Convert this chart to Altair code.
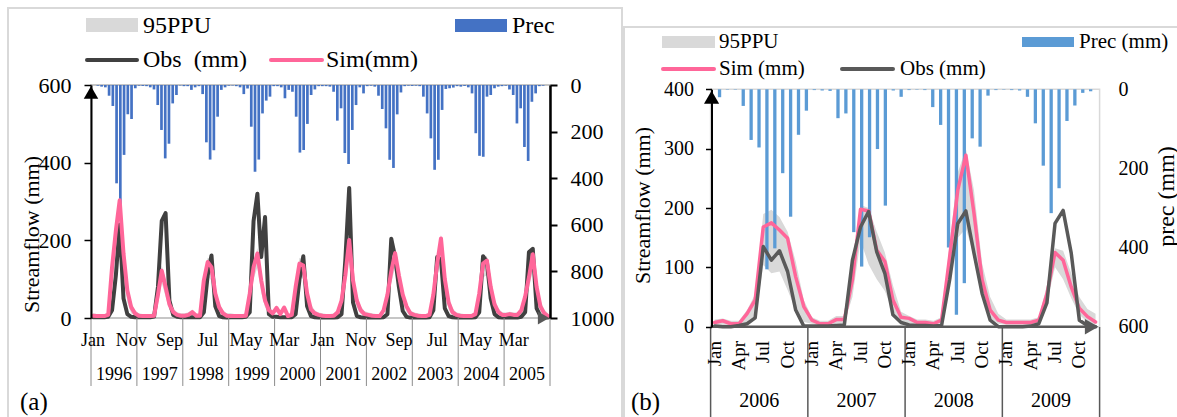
import altair as alt
import pandas as pd
import numpy as np

FONT = "Liberation Serif"

# ---------------- Panel (a): 1996-2005, monthly ----------------
years_a = ["1996", "1997", "1998", "1999", "2000", "2001", "2002", "2003", "2004", "2005"]
month_labels_a = ["Jan", "Nov", "Sep", "Jul", "May", "Mar", "Jan", "Nov", "Sep", "Jul", "May", "Mar"]

prec_a = [
    3, 7, 10, 46, 90, 422, 540, 300, 126, 146, 14, 3,
    4, 5, 10, 19, 86, 193, 315, 252, 79, 43, 2, 5,
    5, 21, 10, 5, 39, 246, 320, 280, 136, 21, 10, 3,
    2, 5, 10, 39, 15, 179, 372, 320, 122, 67, 50, 5,
    5, 10, 57, 21, 29, 136, 290, 279, 167, 43, 19, 5,
    5, 5, 7, 29, 153, 100, 292, 339, 193, 86, 10, 36,
    5, 3, 7, 46, 103, 186, 321, 356, 126, 32, 5, 3,
    4, 3, 5, 50, 122, 229, 364, 321, 107, 17, 14, 11,
    5, 7, 4, 10, 36, 207, 304, 308, 50, 43, 14, 7,
    5, 3, 19, 43, 165, 100, 266, 326, 72, 36, 5, 3,
]
obs_a = [
    2, 2, 2, 2, 3, 20, 110, 240, 50, 10, 3, 2,
    2, 2, 2, 2, 4, 80, 250, 270, 45, 8, 3, 2,
    2, 2, 2, 2, 2, 15, 110, 161, 30, 5, 2, 1,
    2, 2, 2, 2, 3, 15, 250, 320, 157, 260, 10, 3,
    3, 2, 2, 2, 2, 10, 100, 159, 30, 5, 2, 1,
    1, 1, 1, 1, 2, 10, 150, 335, 40, 5, 2, 1,
    1, 1, 1, 1, 2, 10, 204, 157, 80, 18, 3, 1,
    1, 1, 1, 1, 2, 20, 157, 150, 25, 5, 2, 1,
    1, 1, 1, 1, 2, 15, 159, 145, 50, 10, 2, 1,
    1, 1, 1, 1, 3, 15, 170, 178, 25, 5, 2, 1,
]
sim_a = [
    6, 5, 5, 5, 8, 130, 225, 303, 166, 71, 28, 12,
    6, 5, 5, 5, 6, 60, 122, 80, 35, 15, 8, 6,
    6, 8, 15, 6, 6, 97, 144, 131, 63, 28, 12, 6,
    5, 5, 5, 5, 6, 63, 131, 166, 97, 45, 20, 12,
    26, 10, 27, 5, 8, 80, 140, 135, 63, 22, 12, 8,
    6, 5, 5, 6, 15, 45, 110, 201, 97, 45, 20, 10,
    8, 6, 5, 5, 20, 60, 120, 167, 110, 60, 30, 12,
    8, 6, 5, 5, 8, 60, 140, 205, 100, 40, 15, 8,
    6, 5, 5, 5, 10, 63, 140, 148, 80, 35, 15, 8,
    8, 10, 8, 8, 20, 55, 105, 164, 80, 30, 12, 5,
]
ppu_hi_a = [
    12, 10, 10, 10, 15, 150, 240, 310, 185, 90, 40, 20,
    12, 10, 10, 10, 12, 75, 135, 100, 50, 25, 15, 12,
    12, 15, 22, 12, 12, 110, 155, 150, 80, 40, 20, 12,
    12, 10, 10, 10, 12, 80, 145, 180, 115, 60, 30, 20,
    32, 16, 32, 10, 14, 95, 155, 150, 80, 35, 20, 14,
    12, 10, 10, 12, 22, 60, 125, 210, 115, 60, 30, 18,
    14, 12, 10, 10, 28, 75, 135, 180, 130, 75, 40, 20,
    14, 12, 10, 10, 15, 75, 155, 215, 120, 55, 25, 15,
    12, 10, 10, 10, 16, 78, 150, 160, 100, 50, 25, 15,
    14, 16, 14, 14, 28, 70, 120, 178, 100, 45, 22, 12,
]
ppu_lo_a = [
    2, 2, 2, 2, 3, 80, 170, 250, 110, 40, 12, 5,
    2, 2, 2, 2, 2, 35, 90, 55, 20, 8, 3, 2,
    2, 3, 8, 2, 2, 60, 110, 95, 40, 15, 5, 2,
    2, 2, 2, 2, 2, 40, 100, 130, 65, 28, 10, 5,
    15, 5, 15, 2, 3, 50, 105, 100, 40, 12, 5, 3,
    2, 2, 2, 2, 8, 28, 80, 160, 65, 28, 10, 4,
    3, 2, 2, 2, 10, 40, 90, 130, 75, 38, 15, 5,
    3, 2, 2, 2, 3, 38, 105, 160, 65, 22, 6, 3,
    2, 2, 2, 2, 4, 40, 105, 110, 50, 20, 6, 3,
    3, 4, 3, 3, 10, 35, 75, 125, 50, 16, 5, 2,
]

# ---------------- Panel (b): 2006-2009, monthly ----------------
years_b = ["2006", "2007", "2008", "2009"]
month_labels_b = ["Jan", "Apr", "Jul", "Oct"]

prec_b = [
    20, 1, 1, 42, 128, 147, 455, 402, 212, 322, 115, 54,
    2, 3, 4, 73, 61, 361, 448, 374, 151, 294, 3, 19,
    2, 1, 2, 45, 90, 400, 570, 490, 124, 145, 16, 2,
    1, 2, 3, 19, 86, 193, 313, 250, 80, 41, 9, 5,
]
obs_b = [
    1, 0, 0, 2, 5, 15, 135, 112, 128, 93, 28, 1,
    1, 1, 1, 2, 3, 112, 168, 194, 126, 90, 20, 7,
    3, 2, 2, 1, 2, 79, 174, 195, 124, 56, 11, 0,
    0, 0, 0, 1, 5, 40, 174, 196, 124, 11, 2, 0,
]
sim_b = [
    7, 10, 5, 5, 22, 45, 168, 175, 163, 149, 84, 34,
    11, 5, 5, 12, 12, 79, 198, 195, 129, 110, 45, 16,
    14, 7, 7, 5, 11, 118, 230, 289, 191, 79, 28, 11,
    7, 7, 7, 7, 11, 55, 125, 112, 67, 31, 17, 8,
]
ppu_hi_b = [
    12, 14, 10, 10, 28, 55, 190, 197, 185, 160, 110, 45,
    16, 10, 10, 18, 18, 95, 205, 200, 160, 125, 70, 25,
    18, 12, 12, 10, 16, 140, 260, 300, 230, 107, 50, 22,
    12, 12, 12, 12, 16, 70, 132, 128, 90, 50, 30, 22,
]
ppu_lo_b = [
    2, 3, 1, 1, 5, 12, 104, 90, 93, 62, 28, 8,
    5, 2, 2, 5, 6, 50, 145, 105, 80, 60, 25, 8,
    5, 3, 3, 2, 5, 80, 150, 165, 120, 50, 15, 5,
    3, 3, 3, 3, 5, 40, 100, 80, 48, 20, 8, 3,
]

# ---------------- data frames ----------------
df_a = pd.DataFrame({"t": np.arange(120) + 0.5, "prec": prec_a, "obs": obs_a,
                     "sim": sim_a, "lo": ppu_lo_a, "hi": ppu_hi_a})
df_b = pd.DataFrame({"t": np.arange(48) + 0.5, "prec": prec_b, "obs": obs_b,
                     "sim": sim_b, "lo": ppu_lo_b, "hi": ppu_hi_b})
mon_a = pd.DataFrame({"t": [10 * k + 0.5 for k in range(len(month_labels_a))], "label": month_labels_a})
yr_a = pd.DataFrame({"t": [12 * k + 6 for k in range(len(years_a))], "label": years_a})
sep_a = pd.DataFrame({"t": [12 * k for k in range(len(years_a) + 1)]})
mon_b = pd.DataFrame({"t": [3 * (k % 4) + 12 * (k // 4) + 0.5 for k in range(16)],
                      "label": [month_labels_b[k % 4] for k in range(16)]})
yr_b = pd.DataFrame({"t": [12 * k + 6 for k in range(len(years_b))], "label": years_b})
sep_b = pd.DataFrame({"t": [12 * k for k in range(len(years_b) + 1)]})
one = pd.DataFrame({"k": [0]})

# ---------------- scales ----------------
def sx_a():
    return alt.Scale(domain=[0, 120], range=[91, 550], nice=False, zero=False)

def sq_a():
    return alt.Scale(domain=[0, 600], range=[318, 85], nice=False, zero=False)

def sp_a():
    return alt.Scale(domain=[0, 1000], range=[85, 318], nice=False, zero=False)

def sx_b():
    return alt.Scale(domain=[0, 48], range=[710.6, 1099.6], nice=False, zero=False)

def sq_b():
    return alt.Scale(domain=[0, 400], range=[326.7, 89.3], nice=False, zero=False)

def sp_b():
    return alt.Scale(domain=[0, 600], range=[89.3, 326.7], nice=False, zero=False)

layers = []

# frames
layers.append(alt.Chart(one).mark_rect(fill="white", stroke="#d9d9d9", strokeWidth=2).encode(
    x=alt.value(8), x2=alt.value(622), y=alt.value(8), y2=alt.value(440)))
layers.append(alt.Chart(one).mark_rect(fill="white", stroke="#d9d9d9", strokeWidth=2).encode(
    x=alt.value(624), x2=alt.value(1195), y=alt.value(27), y2=alt.value(440)))

# ----- panel (a) -----
layers.append(alt.Chart(one).mark_rect(fill=None, stroke="#b4b4b4", strokeWidth=1.5).encode(
    x=alt.X(datum=0, scale=sx_a(), axis=None), x2=alt.datum(120),
    y=alt.Y(datum=600, scale=sq_a(), axis=None), y2=alt.datum(0)))
layers.append(alt.Chart(df_a).mark_area(color="#d9d9d9").encode(
    x=alt.X("t:Q", scale=sx_a(), axis=None),
    y=alt.Y("hi:Q", scale=sq_a(), axis=None), y2="lo:Q"))
layers.append(alt.Chart(df_a).mark_bar(size=2.7, color="#4472C4").encode(
    x=alt.X("t:Q", scale=sx_a(), axis=None),
    y=alt.Y("prec:Q", scale=sp_a(), axis=alt.Axis(
        orient="right", offset=-627, values=[0, 200, 400, 600, 800, 1000], grid=False, zindex=2,
        format="d",
        domainColor="black", domainWidth=2.5, tickColor="black", tickWidth=2, tickSize=7,
        labelFont=FONT, labelFontSize=22, labelColor="black", labelPadding=13,
        labelOverlap=False, labelFlush=False, title=None)),
    y2=alt.datum(0)))
layers.append(alt.Chart(df_a).mark_line(color="#404040", strokeWidth=4, strokeJoin="round", strokeCap="round").encode(
    x=alt.X("t:Q", scale=sx_a(), axis=None),
    y=alt.Y("obs:Q", scale=sq_a(), axis=None)))
layers.append(alt.Chart(df_a).mark_line(color="#FF6699", strokeWidth=4, strokeJoin="round", strokeCap="round").encode(
    x=alt.X("t:Q", scale=sx_a(), axis=None),
    y=alt.Y("sim:Q", scale=sq_a(), axis=alt.Axis(
        orient="left", offset=-91, values=[0, 200, 400, 600], grid=False, zindex=2,
        format="d",
        domainColor="black", domainWidth=2, tickColor="black", tickWidth=1.5, tickSize=7,
        labelFont=FONT, labelFontSize=22, labelColor="black", labelPadding=13,
        labelOverlap=False, labelFlush=False,
        title="Streamflow (mm)", titleFont=FONT, titleFontSize=22, titleFontWeight="normal",
        titleColor="black", titleAngle=270, titleX=-59.5, titleY=234,
        titleAlign="center", titleBaseline="middle"))))
# axis arrows (a)
layers.append(alt.Chart(one).mark_point(shape="triangle-up", filled=True, size=210, color="black",
                                        opacity=1, yOffset=7.5).encode(
    x=alt.X(datum=0, scale=sx_a(), axis=None), y=alt.Y(datum=600, scale=sq_a(), axis=None)))
layers.append(alt.Chart(one).mark_point(shape="triangle-right", filled=True, size=170, color="#595959",
                                        opacity=1, xOffset=-6.5).encode(
    x=alt.X(datum=120, scale=sx_a(), axis=None), y=alt.Y(datum=0, scale=sq_a(), axis=None)))
# x labels (a)
layers.append(alt.Chart(sep_a).mark_rule(color="#8c8c8c", strokeWidth=1).encode(
    x=alt.X("t:Q", scale=sx_a(), axis=None), y=alt.value(318), y2=alt.value(386)))
layers.append(alt.Chart(mon_a).mark_text(font=FONT, fontSize=18, color="black", baseline="middle").encode(
    x=alt.X("t:Q", scale=sx_a(), axis=None), y=alt.value(341), text="label:N"))
layers.append(alt.Chart(yr_a).mark_text(font=FONT, fontSize=18, color="black", baseline="middle").encode(
    x=alt.X("t:Q", scale=sx_a(), axis=None), y=alt.value(375), text="label:N"))

# ----- panel (b) -----
layers.append(alt.Chart(one).mark_rect(fill=None, stroke="#d9d9d9", strokeWidth=1.5).encode(
    x=alt.X(datum=0, scale=sx_b(), axis=None), x2=alt.datum(48),
    y=alt.Y(datum=400, scale=sq_b(), axis=None), y2=alt.datum(0)))
layers.append(alt.Chart(df_b).mark_area(color="#d9d9d9").encode(
    x=alt.X("t:Q", scale=sx_b(), axis=None),
    y=alt.Y("hi:Q", scale=sq_b(), axis=None), y2="lo:Q"))
layers.append(alt.Chart(df_b).mark_bar(size=3.3, color="#5B9BD5").encode(
    x=alt.X("t:Q", scale=sx_b(), axis=None),
    y=alt.Y("prec:Q", scale=sp_b(), axis=alt.Axis(
        orient="right", offset=-77, values=[0, 200, 400, 600], grid=False, zindex=2,
        format="d", domain=False, ticks=False,
        labelFont=FONT, labelFontSize=20, labelColor="black", labelPadding=18,
        labelOverlap=False, labelFlush=False,
        title="prec (mm)", titleFont=FONT, titleFontSize=24, titleFontWeight="normal",
        titleColor="black", titleAngle=270, titleX=66, titleY=196,
        titleAlign="center", titleBaseline="middle")),
    y2=alt.datum(0)))
layers.append(alt.Chart(df_b).mark_line(color="#FF6699", strokeWidth=3.5, strokeJoin="round", strokeCap="round").encode(
    x=alt.X("t:Q", scale=sx_b(), axis=None),
    y=alt.Y("sim:Q", scale=sq_b(), axis=None)))
layers.append(alt.Chart(df_b).mark_line(color="#595959", strokeWidth=3.5, strokeJoin="round", strokeCap="round").encode(
    x=alt.X("t:Q", scale=sx_b(), axis=None),
    y=alt.Y("obs:Q", scale=sq_b(), axis=alt.Axis(
        orient="left", offset=-711.5, values=[0, 100, 200, 300, 400], grid=False, zindex=2,
        format="d",
        domainColor="black", domainWidth=2, tickColor="black", tickWidth=1.5, tickSize=6,
        labelFont=FONT, labelFontSize=20, labelColor="black", labelPadding=12,
        labelOverlap=False, labelFlush=False,
        title="Streamflow (mm)", titleFont=FONT, titleFontSize=22, titleFontWeight="normal",
        titleColor="black", titleAngle=270, titleX=-69, titleY=205,
        titleAlign="center", titleBaseline="middle"))))
layers.append(alt.Chart(one).mark_rule(color="#595959", strokeWidth=2.5).encode(
    x=alt.X(datum=0, scale=sx_b(), axis=None), x2=alt.datum(47),
    y=alt.Y(datum=0, scale=sq_b(), axis=None)))
layers.append(alt.Chart(one).mark_point(shape="triangle-up", filled=True, size=230, color="black",
                                        opacity=1, yOffset=8).encode(
    x=alt.X(datum=0.12, scale=sx_b(), axis=None), y=alt.Y(datum=400, scale=sq_b(), axis=None)))
layers.append(alt.Chart(one).mark_point(shape="triangle-right", filled=True, size=240, color="#595959",
                                        opacity=1, xOffset=-8).encode(
    x=alt.X(datum=48, scale=sx_b(), axis=None), y=alt.Y(datum=0, scale=sq_b(), axis=None)))
layers.append(alt.Chart(sep_b).mark_rule(color="#595959", strokeWidth=1.5).encode(
    x=alt.X("t:Q", scale=sx_b(), axis=None), y=alt.value(327), y2=alt.value(420)))
layers.append(alt.Chart(mon_b).mark_text(font=FONT, fontSize=19, color="black", angle=270,
                                         align="right", baseline="middle").encode(
    x=alt.X("t:Q", scale=sx_b(), axis=None), y=alt.value(341), text="label:N"))
layers.append(alt.Chart(yr_b).mark_text(font=FONT, fontSize=20, color="black", baseline="middle").encode(
    x=alt.X("t:Q", scale=sx_b(), axis=None), y=alt.value(401), text="label:N"))

# ----- legends and panel tags -----
def rect(x1, x2, y1, y2, color):
    return alt.Chart(one).mark_rect(color=color).encode(
        x=alt.value(x1), x2=alt.value(x2), y=alt.value(y1), y2=alt.value(y2))

def hline(x1, x2, y, color, w):
    return alt.Chart(one).mark_rule(color=color, strokeWidth=w, strokeCap="round").encode(
        x=alt.value(x1), x2=alt.value(x2), y=alt.value(y))

def label(txt, x, y, size):
    return alt.Chart(one).mark_text(text=txt, font=FONT, fontSize=size, color="black",
                                    align="left", baseline="alphabetic").encode(
        x=alt.value(x), y=alt.value(y))

layers += [
    rect(86, 138, 18, 32, "#d9d9d9"), label("95PPU", 143, 33, 24),
    rect(455, 507, 19, 32, "#4472C4"), label("Prec", 512, 33, 24),
    hline(87, 137, 60, "#404040", 4), label("Obs\u00a0\u00a0(mm)", 143, 67, 24),
    hline(271, 322, 60, "#FF6699", 4), label("Sim(mm)", 326, 67, 24),
    rect(662, 715, 36, 48, "#d9d9d9"), label("95PPU", 719, 48, 21),
    rect(1022, 1074, 37, 47, "#5B9BD5"), label("Prec (mm)", 1079, 48, 21),
    hline(663, 714, 69, "#FF6699", 4), label("Sim (mm)", 719, 75, 21),
    hline(842, 893, 69, "#595959", 4), label("Obs (mm)", 900, 75, 21),
    label("(a)", 20, 410, 25),
    label("(b)", 631, 410, 25),
]

chart = alt.layer(*layers).resolve_scale(x="independent", y="independent").properties(
    width=1177, height=417, padding=0, autosize=alt.AutoSizeParams(type="none"),
    background="white").configure_view(strokeWidth=0)

chart.save("out.html", embed_options={"renderer": "svg", "actions": False})
